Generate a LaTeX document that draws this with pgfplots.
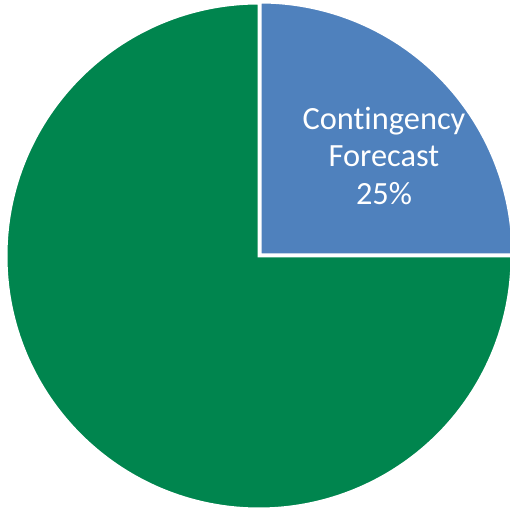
\documentclass[border=0pt]{standalone}
\usepackage{pgfplots}
\usepackage{pgfplotstable}
\pgfplotsset{compat=1.18}
\usepackage{fontspec}
\setmainfont[Ligatures={NoCommon,NoContextual,NoRare}]{Carlito}
\definecolor{SliceBlue}{HTML}{4F81BD}
\definecolor{SliceGreen}{HTML}{00854E}

% slice values in percent, in drawing order from 0 deg counterclockwise
\pgfplotstableread{
name value
Contingency 25
Other 75
}\slices

\begin{document}
\begin{tikzpicture}
\begin{axis}[
    hide axis,
    scale only axis,
    width=510bp, height=511bp,
    xmin=0, xmax=510, ymin=0, ymax=511,
]
\pgfplotstablegetelem{0}{value}\of\slices \let\va\pgfplotsretval
\pgfplotstablegetelem{1}{value}\of\slices \let\vb\pgfplotsretval
\pgfmathsetmacro\aa{3.6*\va}
\pgfmathsetmacro\ab{\aa+3.6*\vb}
\clip (axis cs:0,0) rectangle (axis cs:510,511);
% green slice
\filldraw[fill=SliceGreen, draw=white, line width=3bp]
  (axis cs:259,255) -- ++(\aa:253bp) arc[start angle=\aa, end angle=\ab, radius=253bp] -- cycle;
% blue slice
\filldraw[fill=SliceBlue, draw=white, line width=3bp]
  (axis cs:260,256) -- ++(0:253bp) arc[start angle=0, end angle=\aa, radius=253bp] -- cycle;
\node[text=white, align=center, font=\fontsize{32.5}{38}\selectfont]
  at (axis cs:384,355) {Contingency\\Forecast\\\va\%};
\end{axis}
\pgfresetboundingbox
\path (current axis.south west) rectangle (current axis.north east);
\end{tikzpicture}
\end{document}
